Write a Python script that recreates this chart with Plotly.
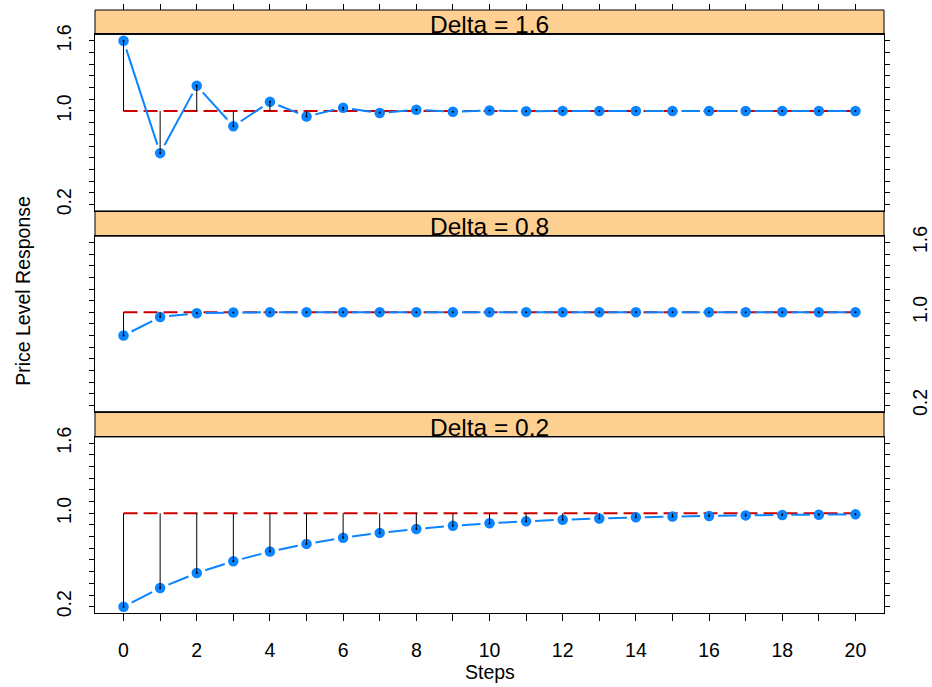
import math
import plotly.graph_objects as go

# ---------------- data ----------------
steps = list(range(21))
delta_labels = ["Delta = 1.6", "Delta = 0.8", "Delta = 0.2"]
resp_delta_16 = [1.6, 0.64, 1.216, 0.870, 1.078, 0.953, 1.028, 0.983, 1.010, 0.994,
                 1.004, 0.998, 1.001, 0.999, 1.0, 1.0, 1.0, 1.0, 1.0, 1.0, 1.0]
resp_delta_08 = [0.8, 0.96, 0.992, 0.998, 1.0, 1.0, 1.0, 1.0, 1.0, 1.0,
                 1.0, 1.0, 1.0, 1.0, 1.0, 1.0, 1.0, 1.0, 1.0, 1.0, 1.0]
resp_delta_02 = [0.2, 0.36, 0.488, 0.590, 0.672, 0.738, 0.790, 0.832, 0.866, 0.893,
                 0.914, 0.931, 0.945, 0.956, 0.965, 0.972, 0.977, 0.982, 0.986, 0.988, 0.991]
equilibrium = 1.0
y_tick_vals = [0.2, 0.3, 0.4, 0.5, 0.6, 0.7, 0.8, 0.9, 1.0, 1.1, 1.2, 1.3, 1.4, 1.5, 1.6]
y_tick_text = ["0.2", "", "", "", "", "", "", "", "1.0", "", "", "", "", "", "1.6"]
x_tick_vals = steps
x_tick_text = [str(s) if s % 2 == 0 else "" for s in steps]

# ---------------- layout geometry ----------------
W, H = 932, 687
ML, MR, MT, MB = 95, 48, 9.5, 73.7
PW = W - ML - MR
PH = H - MT - MB
def py(ypx):
    return (H - MB - ypx) / PH

panel_px = [(34, 210.7), (236, 411.7), (437, 613.3)]      # top -> bottom
strip_px = [(9.5, 34), (210.7, 236), (411.7, 437)]
panels = [(py(b), py(t)) for t, b in panel_px]
strips = [(py(b), py(t)) for t, b in strip_px]

BLUE = "#0A84FF"
RED = "#CD0000"
FONT = "Liberation Sans, Arial, sans-serif"
xr = [-0.78, 20.78]
yr = [0.146, 1.654]
GAP_PX = 9.0   # gap left around points by the connecting line (R type="b")

# pixel scale (for trimming the connecting line near points)
sx_pp = PW / (xr[1] - xr[0])
sy_pp = (panel_px[0][1] - panel_px[0][0]) / (yr[1] - yr[0])

def gapped_line(xs, ys):
    ox, oy = [], []
    for i in range(len(xs) - 1):
        dx = (xs[i + 1] - xs[i]) * sx_pp
        dy = (ys[i + 1] - ys[i]) * sy_pp
        L = math.hypot(dx, dy)
        if L <= 2 * GAP_PX:
            continue
        f = GAP_PX / L
        ox += [xs[i] + (xs[i + 1] - xs[i]) * f, xs[i + 1] - (xs[i + 1] - xs[i]) * f, None]
        oy += [ys[i] + (ys[i + 1] - ys[i]) * f, ys[i + 1] - (ys[i + 1] - ys[i]) * f, None]
    return ox, oy

fig = go.Figure()
series = [resp_delta_16, resp_delta_08, resp_delta_02]
axis_ids = [("x3", "y3"), ("x2", "y2"), ("x", "y")]

for vals, (xa, ya) in zip(series, axis_ids):
    fig.add_trace(go.Scatter(x=steps, y=[equilibrium] * len(steps), mode="lines",
                             line=dict(color=RED, width=2, dash="14px,6px"),
                             xaxis=xa, yaxis=ya, showlegend=False, hoverinfo="skip"))
    lx, ly = gapped_line(steps, vals)
    fig.add_trace(go.Scatter(x=lx, y=ly, mode="lines",
                             line=dict(color=BLUE, width=2),
                             xaxis=xa, yaxis=ya, showlegend=False, hoverinfo="skip"))
    fig.add_trace(go.Scatter(x=steps, y=vals, mode="markers",
                             marker=dict(color=BLUE, size=10.5, line=dict(width=0)),
                             xaxis=xa, yaxis=ya, showlegend=False))
    sx, sy = [], []
    for s, v in zip(steps, vals):
        sx += [s, s, None]
        sy += [equilibrium, v, None]
    fig.add_trace(go.Scatter(x=sx, y=sy, mode="lines", line=dict(color="black", width=1),
                             xaxis=xa, yaxis=ya, showlegend=False, hoverinfo="skip"))
    fig.add_trace(go.Scatter(x=steps, y=vals, mode="markers",
                             marker=dict(color="black", size=2, line=dict(width=0)),
                             xaxis=xa, yaxis=ya, showlegend=False, hoverinfo="skip"))

# dummy trace so the top tick axis is drawn
fig.add_trace(go.Scatter(x=[None], y=[None], xaxis="x4", yaxis="y3", showlegend=False,
                         hoverinfo="skip"))

tickfont = dict(family=FONT, size=19.5, color="black")
common_y = dict(range=yr, tickvals=y_tick_vals, ticktext=y_tick_text, ticks="outside",
                ticklen=5, tickcolor="black", showline=True, linecolor="black", linewidth=1,
                mirror="ticks", showgrid=False, zeroline=False, tickangle=-90,
                tickfont=tickfont, automargin=False)
common_x = dict(range=xr, showline=True, linecolor="black", linewidth=1, mirror=True,
                showgrid=False, zeroline=False, automargin=False)

fig.update_layout(
    width=W, height=H, autosize=False,
    margin=dict(l=ML, r=MR, t=MT, b=MB, pad=0, autoexpand=False),
    paper_bgcolor="white", plot_bgcolor="white",
    font=dict(family=FONT, color="black"),
    xaxis=dict(**common_x, domain=[0, 1], anchor="y", tickvals=x_tick_vals,
               ticktext=x_tick_text, ticks="outside", ticklen=7, tickcolor="black",
               tickfont=tickfont, ticklabelstandoff=13),
    xaxis2=dict(**common_x, matches="x", anchor="y2", showticklabels=False, ticks=""),
    xaxis3=dict(**common_x, matches="x", anchor="y3", showticklabels=False, ticks=""),
    xaxis4=dict(range=xr, overlaying="x3", side="top", anchor="free", position=1,
                tickvals=x_tick_vals, showticklabels=False, ticks="outside", ticklen=6,
                tickcolor="black", showline=False, showgrid=False, zeroline=False,
                automargin=False),
    yaxis=dict(**common_y, domain=list(panels[2]), anchor="x", side="left",
               ticklabelstandoff=10),
    yaxis2=dict(**common_y, domain=list(panels[1]), anchor="x2", side="right",
                ticklabelstandoff=14),
    yaxis3=dict(**common_y, domain=list(panels[0]), anchor="x3", side="left",
                ticklabelstandoff=10),
)

for (y0, y1), label in zip(strips, delta_labels):
    fig.add_shape(type="rect", xref="paper", yref="paper", x0=0, x1=1, y0=y0, y1=y1,
                  fillcolor="#FDD092", line=dict(color="black", width=1), layer="below")
    fig.add_annotation(text=label, xref="paper", yref="paper", x=0.5, y=y0,
                       xanchor="center", yanchor="bottom", yshift=-6, showarrow=False,
                       font=dict(family=FONT, size=24.5, color="black"))

fig.add_annotation(text="Steps", xref="paper", yref="paper", x=0.5, y=py(672),
                   xanchor="center", yanchor="middle", showarrow=False,
                   font=dict(family=FONT, size=19.5, color="black"))
fig.add_annotation(text="Price Level Response", xref="paper", yref="paper",
                   x=(22.7 - ML) / PW, y=py(291), xanchor="center",
                   yanchor="middle", textangle=-90, showarrow=False,
                   font=dict(family=FONT, size=19.5, color="black"))

fig.write_html("out.html", config={"displayModeBar": False},
               post_script="document.body.style.margin='0px';document.body.style.overflow='hidden';")
